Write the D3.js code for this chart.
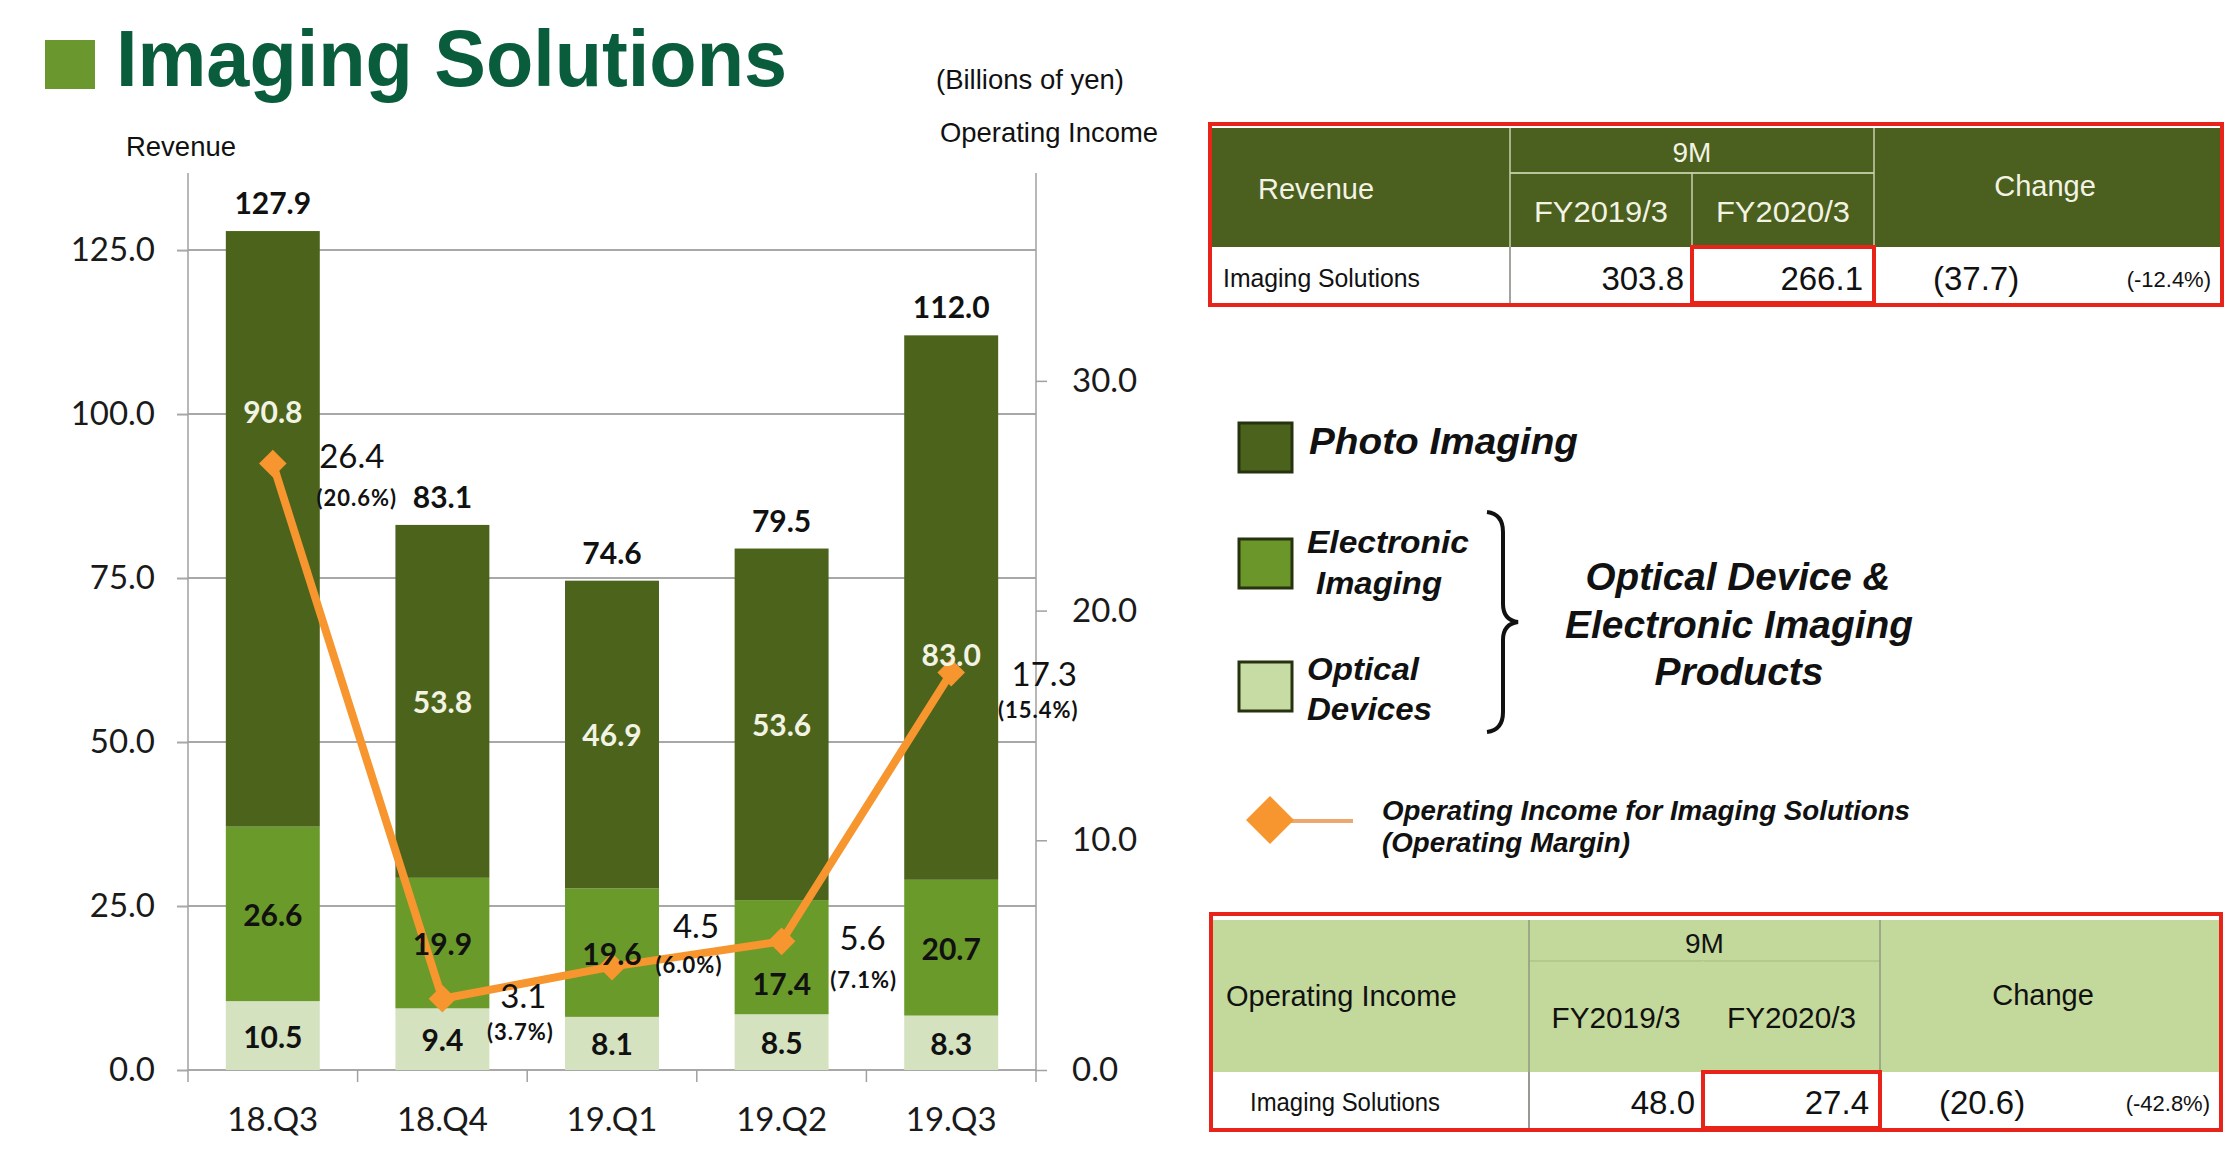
<!DOCTYPE html>
<html><head><meta charset="utf-8">
<script src="https://cdn.jsdelivr.net/npm/d3@7"></script>
<style>body{margin:0;background:#fff;} svg{display:block;}</style>
</head><body>
<svg id="c" width="2240" height="1154"></svg>
<script>
// ---------- DATA ----------
const categories = ["18.Q3","18.Q4","19.Q1","19.Q2","19.Q3"];
const opticalDevices    = [10.5, 9.4, 8.1, 8.5, 8.3];
const electronicImaging = [26.6, 19.9, 19.6, 17.4, 20.7];
const photoImaging      = [90.8, 53.8, 46.9, 53.6, 83.0];
const revenueTotals     = [127.9, 83.1, 74.6, 79.5, 112.0];
const operatingIncome   = [26.4, 3.1, 4.5, 5.6, 17.3];
const operatingMargin   = ["20.6%","3.7%","6.0%","7.1%","15.4%"];
const leftTicks  = [0, 25, 50, 75, 100, 125];
const rightTicks = [0, 10, 20, 30];
const seriesKeys  = ["optical","electronic","photo"];

const revTableHead = ["Revenue","9M","FY2019/3","FY2020/3","Change"];
const revTableRow  = ["Imaging Solutions","303.8","266.1","(37.7)","(-12.4%)"];
const oiTableHead  = ["Operating Income","9M","FY2019/3","FY2020/3","Change"];
const oiTableRow   = ["Imaging Solutions","48.0","27.4","(20.6)","(-42.8%)"];

// ---------- STYLE / LAYOUT ----------
const colors = {photo:"#4c631c", electronic:"#6a9a2a", optical:"#d4e2c0"};
const legendColors = {photo:"#4b621d", electronic:"#6a962a", optical:"#c6dca4"};
const orange = "#f7952f";
const FONT = "Lato, 'Open Sans', sans-serif";
const SANS = "'Liberation Sans', Arial, sans-serif";

const svg = d3.select("#c");

const x = d3.scaleBand().domain(categories).range([188, 1036]).paddingInner(0.446).paddingOuter(0.223);
const y = d3.scaleLinear().domain([0, 136.75]).range([1070, 173]);
const yR = d3.scaleLinear().domain([0, 39.05]).range([1070, 173]);

// title
svg.append("rect").attr("x",45).attr("y",40).attr("width",50).attr("height",49).attr("fill","#6b982e");
svg.append("text").attr("x",116).attr("y",86).attr("font-family",SANS).attr("font-weight","bold")
  .attr("font-size",79).attr("fill","#0a5d3c").attr("textLength",671).attr("lengthAdjust","spacingAndGlyphs")
  .text("Imaging Solutions");

function txt(xp, yp, s, o) {
  o = o || {};
  const t = svg.append("text").attr("x",xp).attr("y",yp)
    .attr("font-family", o.family || SANS).attr("font-size", o.size || 27)
    .attr("fill", o.fill || "#111").attr("dominant-baseline","central")
    .attr("text-anchor", o.anchor || "start").text(s);
  if (o.weight) t.attr("font-weight", o.weight);
  if (o.style) t.attr("font-style", o.style);
  if (o.len) t.attr("textLength", o.len).attr("lengthAdjust","spacingAndGlyphs");
  if (o.ls) t.attr("letter-spacing", o.ls);
  return t;
}

txt(936, 80, "(Billions of yen)", {size:27, len:188});
txt(940, 132, "Operating Income", {size:28, len:218});
txt(126, 147, "Revenue", {size:27, len:110});

// gridlines
svg.append("g").selectAll("line").data(leftTicks).join("line")
  .attr("x1",188).attr("x2",1036).attr("y1",d=>y(d)).attr("y2",d=>y(d))
  .attr("stroke","#a8a8a8").attr("stroke-width",2);

// stacked bars
const table = categories.map((c,i)=>({cat:c, optical:opticalDevices[i], electronic:electronicImaging[i], photo:photoImaging[i]}));
const stacked = d3.stack().keys(seriesKeys)(table);
const gBars = svg.append("g");
stacked.forEach(layer=>{
  gBars.selectAll(null).data(layer).join("rect")
    .attr("x", d=>x(d.data.cat)).attr("width", x.bandwidth())
    .attr("y", d=>y(d[1])).attr("height", d=>y(d[0])-y(d[1]))
    .attr("fill", colors[layer.key]);
});

// axes
svg.append("g").attr("transform","translate(188,0)")
  .call(d3.axisLeft(y).tickValues(leftTicks).tickFormat(d3.format(".1f")).tickSize(11).tickSizeOuter(0).tickPadding(22))
  .call(g=>g.select(".domain").remove())
  .call(g=>g.selectAll("line").attr("stroke","#a8a8a8").attr("stroke-width",2))
  .call(g=>g.selectAll("text").attr("font-family",FONT).attr("font-size",33).attr("fill","#1a1a1a"));

svg.append("g").attr("transform","translate(1036,0)")
  .call(d3.axisRight(yR).tickValues(rightTicks).tickFormat(d3.format(".1f")).tickSize(11).tickSizeOuter(0).tickPadding(25))
  .call(g=>g.select(".domain").remove())
  .call(g=>g.selectAll("line").attr("stroke","#a0a0a0").attr("stroke-width",1.5))
  .call(g=>g.selectAll("text").attr("font-family",FONT).attr("font-size",33).attr("fill","#1a1a1a"));

svg.append("g").attr("transform","translate(0,1070)")
  .call(d3.axisBottom(x).tickSize(0).tickPadding(38))
  .call(g=>g.select(".domain").remove())
  .call(g=>g.selectAll("text").attr("font-family",FONT).attr("font-size",33).attr("fill","#1a1a1a"));

// axis lines and category boundary ticks
const bounds = d3.range(categories.length+1).map(i=>x.range()[0] + i*x.step());
svg.append("g").selectAll("line").data(bounds).join("line")
  .attr("x1",d=>d).attr("x2",d=>d).attr("y1",(d,i)=> (i===0||i===bounds.length-1) ? y.range()[1] : y(0)).attr("y2",1082)
  .attr("stroke","#a0a0a0").attr("stroke-width",1.5);

const cx = c => x(c) + x.bandwidth()/2;

// operating income line
const line = d3.line().x((d,i)=>cx(categories[i])).y(d=>yR(d));
svg.append("path").datum(operatingIncome).attr("d",line).attr("fill","none")
  .attr("stroke",orange).attr("stroke-width",8).attr("stroke-linejoin","round");
svg.append("g").selectAll("path").data(operatingIncome).join("path")
  .attr("d", d3.symbol(d3.symbolSquare, 380)())
  .attr("transform",(d,i)=>`translate(${cx(categories[i])},${yR(d)}) rotate(45)`)
  .attr("fill",orange);

// bar labels (on top of line)
const labelValueOverride = {"photo-0":100.5, "photo-4":63.4, "electronic-3":13.3};
stacked.forEach(layer=>{
  layer.forEach((d,i)=>{
    const key = layer.key + "-" + i;
    const v = labelValueOverride[key] !== undefined ? labelValueOverride[key] : (d[0]+d[1])/2;
    txt(cx(d.data.cat), y(v), d3.format(".1f")(d[1]-d[0]), {family:FONT, size:30, weight:"bold",
      anchor:"middle", fill: layer.key==="photo" ? "#f3f3e3" : "#111"});
  });
});
revenueTotals.forEach((v,i)=>{
  txt(cx(categories[i]), y(v)-29, d3.format(".1f")(v), {family:FONT, size:30, weight:"bold", anchor:"middle", fill:"#111"});
});

// line labels (offsets in px relative to point)
const valueLabelOffset  = [[79,-9],[81,-4],[84,-42],[81,-4],[93,0]];
const marginLabelOffset = [[84,34],[78,33],[77,-2],[82,38],[87,37]];
operatingIncome.forEach((v,i)=>{
  const px = cx(categories[i]), py = yR(v);
  txt(px+valueLabelOffset[i][0], py+valueLabelOffset[i][1], d3.format(".1f")(v), {family:FONT, size:33, anchor:"middle"});
  txt(px+marginLabelOffset[i][0], py+marginLabelOffset[i][1], "(" + operatingMargin[i] + ")", {family:FONT, size:22, weight:"bold", anchor:"middle", ls:1});
});

// ---------- LEGEND ----------
const sw = [{k:"photo", y:423},{k:"electronic", y:539},{k:"optical", y:662}];
svg.append("g").selectAll("rect").data(sw).join("rect")
  .attr("x",1239).attr("y",d=>d.y).attr("width",53).attr("height",49)
  .attr("fill",d=>legendColors[d.k]).attr("stroke","#26330e").attr("stroke-width",3);
const LI = {size:37, weight:"bold", style:"italic"};
txt(1309, 441, "Photo Imaging", Object.assign({}, LI, {len:269}));
txt(1307, 542, "Electronic", Object.assign({}, LI, {size:31, len:162}));
txt(1316, 583, "Imaging", Object.assign({}, LI, {size:31, len:126}));
txt(1307, 669, "Optical", Object.assign({}, LI, {size:31, len:112}));
txt(1307, 709, "Devices", Object.assign({}, LI, {size:31, len:125}));
svg.append("path")
  .attr("d","M1487,512 Q1503,514 1503,532 L1503,604 Q1503,620 1518,622 Q1503,624 1503,640 L1503,712 Q1503,730 1487,732")
  .attr("fill","none").attr("stroke","#111").attr("stroke-width",4);
txt(1738, 577, "Optical Device &", Object.assign({}, LI, {size:38, anchor:"middle", len:305}));
txt(1739, 625, "Electronic Imaging", Object.assign({}, LI, {size:38, anchor:"middle", len:348}));
txt(1739, 672, "Products", Object.assign({}, LI, {size:38, anchor:"middle", len:169}));
svg.append("line").attr("x1",1290).attr("x2",1353).attr("y1",821).attr("y2",821)
  .attr("stroke","#eda870").attr("stroke-width",4);
svg.append("path").attr("d", d3.symbol(d3.symbolSquare, 1150)())
  .attr("transform","translate(1270,820) rotate(45)").attr("fill",orange);
txt(1382, 811, "Operating Income for Imaging Solutions", {size:27, weight:"bold", style:"italic", len:528});
txt(1382, 843, "(Operating Margin)", {size:27, weight:"bold", style:"italic", len:248});

// ---------- TABLES ----------
const red = "#e8231a";
function drawTable(o) {
  const g = svg.append("g");
  g.append("rect").attr("x",o.x0).attr("y",o.top).attr("width",o.x4-o.x0).attr("height",o.bottom-o.top).attr("fill","#fff");
  g.append("rect").attr("x",o.x0).attr("y",o.hTop).attr("width",o.x4-o.x0).attr("height",o.hBot-o.hTop).attr("fill",o.headFill);
  g.append("line").attr("x1",o.x1).attr("x2",o.x3).attr("y1",o.mid).attr("y2",o.mid).attr("stroke",o.midStroke).attr("stroke-width",2);
  [o.x1, o.x3].forEach(xx=>g.append("line").attr("x1",xx).attr("x2",xx).attr("y1",o.hTop).attr("y2",o.bottom)
     .attr("stroke",o.vStroke).attr("stroke-width",1.5));
  g.append("line").attr("x1",o.x2).attr("x2",o.x2).attr("y1",o.mid).attr("y2",o.hBot).attr("stroke",o.vStroke2).attr("stroke-width",1.5);
  g.append("line").attr("x1",o.x1).attr("x2",o.x1).attr("y1",o.hBot).attr("y2",o.bottom).attr("stroke","#909090").attr("stroke-width",1.5);
  g.append("rect").attr("x",o.x0-2).attr("y",o.top-2).attr("width",o.x4-o.x0+4).attr("height",o.bottom-o.top+4)
    .attr("fill","none").attr("stroke",red).attr("stroke-width",4);
  g.append("rect").attr("x",o.x2).attr("y",o.hBot).attr("width",o.x3-o.x2).attr("height",o.bottom-o.hBot)
    .attr("fill","none").attr("stroke",red).attr("stroke-width",4);
  const hf = o.headText;
  txt(o.h0x, o.h0y, o.head[0], {size:29, fill:hf, anchor:o.h0anchor});
  txt((o.x1+o.x3)/2, o.h1y, o.head[1], {size:28, fill:hf, anchor:"middle"});
  txt((o.x1+o.x2)/2, o.h2y, o.head[2], {size:29, fill:hf, anchor:"middle", len:o.fyLen});
  txt((o.x2+o.x3)/2, o.h2y, o.head[3], {size:29, fill:hf, anchor:"middle", len:o.fyLen});
  txt(o.chx, o.chy, o.head[4], {size:29, fill:hf, anchor:"middle"});
  const ry = o.rowY;
  txt(o.r0x, ry, o.row[0], {size:26, len:o.r0len});
  txt(o.x2-8, ry, o.row[1], {size:33, anchor:"end"});
  txt(o.x3-11, ry, o.row[2], {size:33, anchor:"end"});
  txt(o.x3+59, ry, o.row[3], {size:33});
  txt(o.x4-9, ry+1, o.row[4], {size:22, anchor:"end"});
}
drawTable({x0:1212, x1:1510, x2:1692, x3:1874, x4:2220, top:126, hTop:128, hBot:247, mid:173, bottom:303,
  headFill:"#4b5f1e", headText:"#f3f3e4", midStroke:"#b9c59a", vStroke:"#c8d0b0", vStroke2:"#c8d0b0",
  head:revTableHead, row:revTableRow, h0x:1316, h0y:189, h0anchor:"middle", h1y:152, h2y:212, chx:2045, chy:186,
  fyLen:134, rowY:278, r0x:1223, r0len:197});
drawTable({x0:1213, x1:1529, x2:1703, x3:1880, x4:2219, top:916, hTop:920, hBot:1072, mid:961, bottom:1128,
  headFill:"#c3d89b", headText:"#111", midStroke:"#b2ca8c", vStroke:"#8f9a80", vStroke2:"#c3d89b",
  head:oiTableHead, row:oiTableRow, h0x:1226, h0y:996, h0anchor:"start", h1y:943, h2y:1018, chx:2043, chy:995,
  fyLen:129, rowY:1102, r0x:1250, r0len:190});
</script>
</body></html>
